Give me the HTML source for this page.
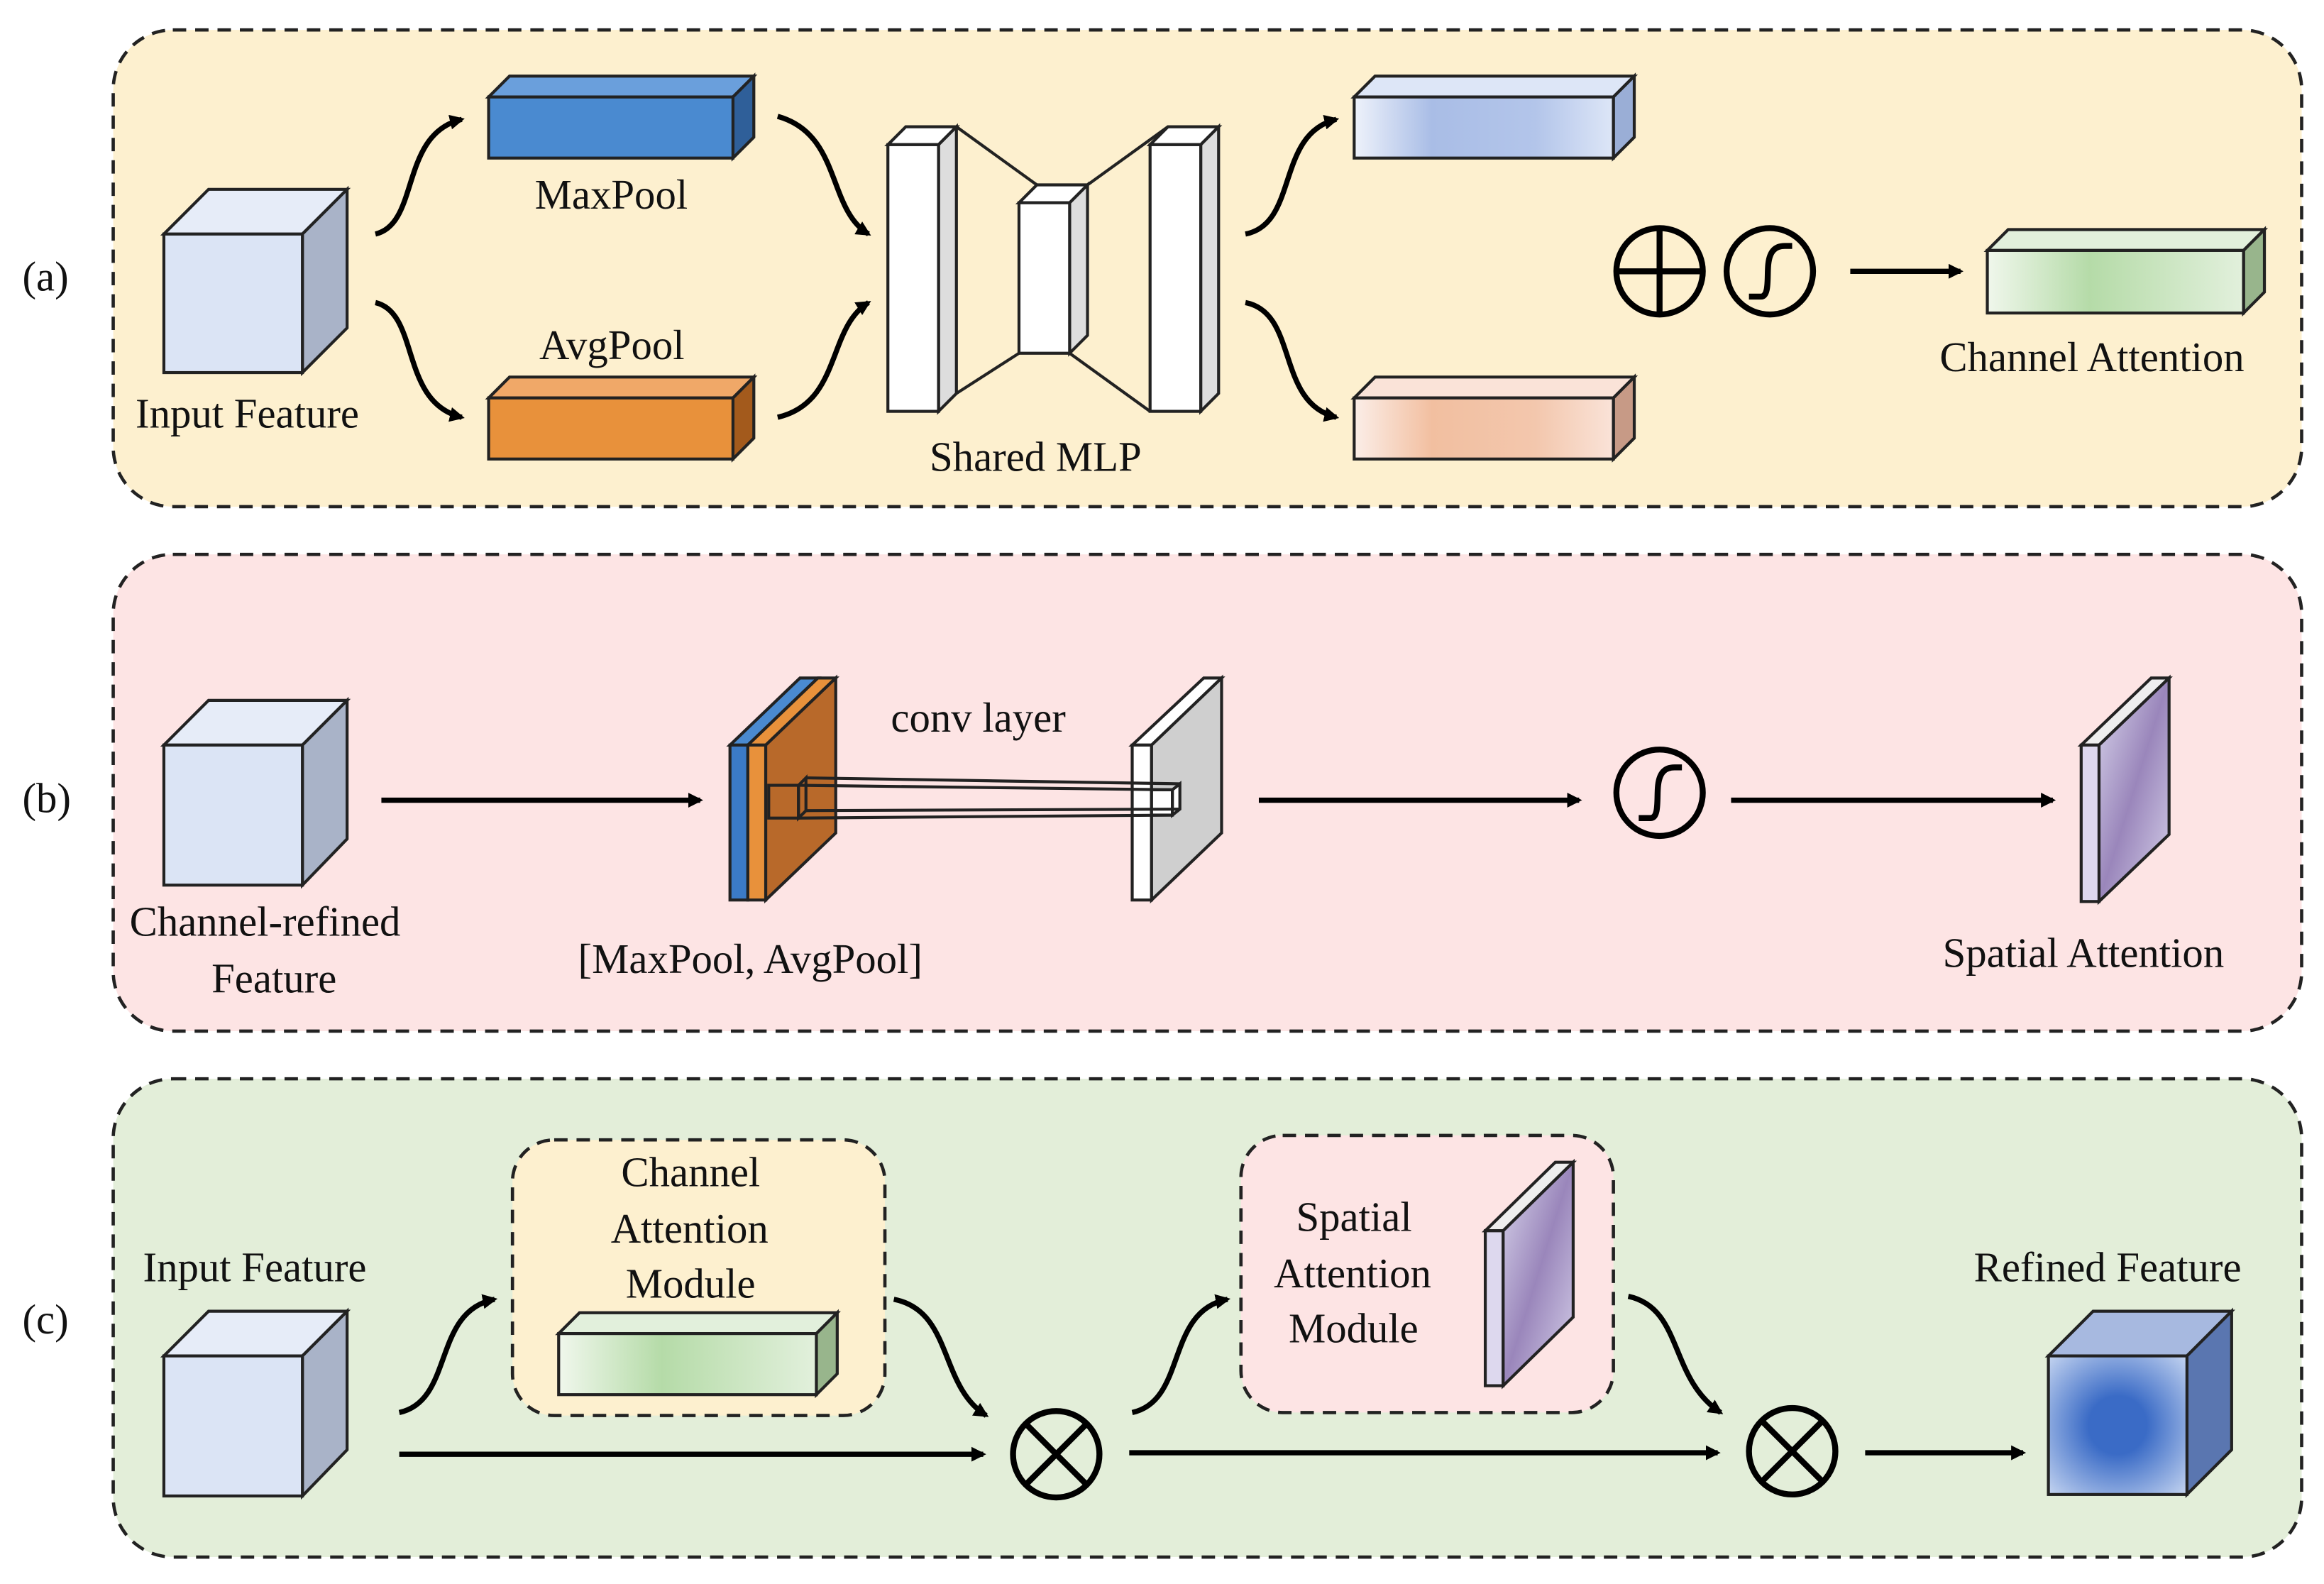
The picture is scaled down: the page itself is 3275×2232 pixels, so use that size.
<!DOCTYPE html>
<html><head><meta charset="utf-8"><style>
html,body{margin:0;padding:0;background:#fff;}
svg{display:block;}
svg text{font-family:"Liberation Serif","DejaVu Serif",serif;font-size:28px;fill:#111;}
</style></head><body>
<svg width="3275" height="2232" viewBox="0 0 1560 1063" xmlns="http://www.w3.org/2000/svg" font-family="Liberation Serif, DejaVu Serif, serif">
<defs>
<marker id="ah" markerWidth="10" markerHeight="10" refX="8" refY="5" orient="auto" markerUnits="userSpaceOnUse" viewBox="0 0 10 10"><path d="M0,0 L10,5 L0,10 Z" fill="#000"/></marker>
<linearGradient id="gb" x1="0" x2="1"><stop offset="0" stop-color="#eef2fb"/><stop offset="0.3" stop-color="#a9bde6"/><stop offset="0.7" stop-color="#b3c5ea"/><stop offset="1" stop-color="#dde6f7"/></linearGradient>
<linearGradient id="go" x1="0" x2="1"><stop offset="0" stop-color="#fbeee8"/><stop offset="0.3" stop-color="#f2bfa0"/><stop offset="0.7" stop-color="#f3c7ad"/><stop offset="1" stop-color="#fae3d8"/></linearGradient>
<linearGradient id="gg" x1="0" x2="1"><stop offset="0" stop-color="#f0f7ec"/><stop offset="0.4" stop-color="#b5dba8"/><stop offset="0.6" stop-color="#c4e2b9"/><stop offset="1" stop-color="#e2f0dc"/></linearGradient>
<linearGradient id="gp" x1="0" x2="1" y1="0" y2="1"><stop offset="0" stop-color="#d9d6ec"/><stop offset="0.5" stop-color="#9a86bb"/><stop offset="1" stop-color="#d6d1ea"/></linearGradient>
<radialGradient id="gr" cx="0.5" cy="0.5" r="0.7"><stop offset="0.3" stop-color="#3a6bc6"/><stop offset="1" stop-color="#c3d3f0"/></radialGradient>
</defs>
<rect width="1560" height="1063" fill="#fff"/>
<rect x="76" y="20" width="1469" height="320" rx="40" fill="#fdf0cf" stroke="#222" stroke-width="2.2" stroke-dasharray="9,6"/>
<rect x="76" y="372" width="1469" height="320" rx="40" fill="#fde4e4" stroke="#222" stroke-width="2.2" stroke-dasharray="9,6"/>
<rect x="76" y="724" width="1469" height="321" rx="40" fill="#e3eed9" stroke="#222" stroke-width="2.2" stroke-dasharray="9,6"/>
<text x="15" y="195">(a)</text><text x="15" y="545">(b)</text><text x="15" y="895">(c)</text>

<g stroke="#222" stroke-width="2">
<polygon points="110,157 140,127 233,127 203,157" fill="#e6ecf8"/>
<polygon points="203,157 233,127 233,220 203,250" fill="#a9b3c8"/>
<rect x="110" y="157" width="93" height="93" fill="#dbe4f5"/>
<polygon points="328,65 342,51 506,51 492,65" fill="#6a9fdc"/>
<polygon points="492,65 506,51 506,92 492,106" fill="#2f5f99"/>
<rect x="328" y="65" width="164" height="41" fill="#4a8ad0"/>
<polygon points="328,267 342,253 506,253 492,267" fill="#f0a868"/>
<polygon points="492,267 506,253 506,294 492,308" fill="#a35a1c"/>
<rect x="328" y="267" width="164" height="41" fill="#e8913b"/>
<polygon points="596,97 608,85 642,85 630,97" fill="#fff"/><polygon points="630,97 642,85 642,264 630,276" fill="#ddd"/><rect x="596" y="97" width="34" height="179" fill="#fff"/>
<polygon points="684,136 696,124 730,124 718,136" fill="#fff"/><polygon points="718,136 730,124 730,225 718,237" fill="#ddd"/><rect x="684" y="136" width="34" height="101" fill="#fff"/>
<polygon points="772,97 784,85 818,85 806,97" fill="#fff"/><polygon points="806,97 818,85 818,264 806,276" fill="#ddd"/><rect x="772" y="97" width="34" height="179" fill="#fff"/>
<line x1="642" y1="85" x2="696" y2="124"/><line x1="642" y1="264" x2="684" y2="237"/><line x1="730" y1="124" x2="784" y2="85"/><line x1="718" y1="237" x2="772" y2="276"/>
<polygon points="909,65 923,51 1097,51 1083,65" fill="#dde6f7"/><polygon points="1083,65 1097,51 1097,92 1083,106" fill="#9aaed6"/><rect x="909" y="65" width="174" height="41" fill="url(#gb)"/>
<polygon points="909,267 923,253 1097,253 1083,267" fill="#fae3d8"/><polygon points="1083,267 1097,253 1097,294 1083,308" fill="#c79a86"/><rect x="909" y="267" width="174" height="41" fill="url(#go)"/>
<polygon points="1334,168 1348,154 1520,154 1506,168" fill="#e2f0dc"/><polygon points="1506,168 1520,154 1520,196 1506,210" fill="#98b58c"/><rect x="1334" y="168" width="172" height="42" fill="url(#gg)"/>
</g>
<g fill="none" stroke="#000" stroke-width="4">
<circle cx="1114" cy="182" r="29"/><line x1="1085" y1="182" x2="1143" y2="182"/><line x1="1114" y1="153" x2="1114" y2="211"/>
<circle cx="1188" cy="182" r="29"/><path d="M1174,199 L1182,199 C1188,199 1186,185 1187,177 C1188,168 1192,165 1198,165 L1203,165"/>
</g>
<g fill="none" stroke="#000" stroke-width="3.5" marker-end="url(#ah)">
<path d="M252,157 C282,150 268,90 310,80"/>
<path d="M252,203 C282,210 268,270 310,280"/>
<path d="M522,78 C565,90 555,140 583,157"/>
<path d="M522,280 C565,270 555,220 583,203"/>
<path d="M836,157 C872,150 856,90 897,80"/>
<path d="M836,203 C872,210 856,270 897,280"/>
<path d="M1242,182 L1316,182"/>
</g>
<text x="359" y="140">MaxPool</text><text x="362" y="241">AvgPool</text>
<text x="91" y="287">Input Feature</text><text x="624" y="316">Shared MLP</text>
<text x="1302" y="249">Channel Attention</text>

<g stroke="#222" stroke-width="2">
<polygon points="110,500 140,470 233,470 203,500" fill="#e6ecf8"/>
<polygon points="203,500 233,470 233,563 203,594" fill="#a9b3c8"/>
<rect x="110" y="500" width="93" height="94" fill="#dbe4f5"/>
<polygon points="490,500 537,455 549,455 502,500" fill="#4a8ad0"/>
<rect x="490" y="500" width="12" height="104" fill="#3b7ac6"/>
<polygon points="502,500 549,455 561,455 514,500" fill="#e8913b"/>
<rect x="502" y="500" width="12" height="104" fill="#e8913b"/>
<polygon points="514,500 561,455 561,559 514,604" fill="#b8692a"/>
<polygon points="760,500 808,455 820,455 773,500" fill="#fff"/>
<rect x="760" y="500" width="13" height="104" fill="#fff"/>
<polygon points="773,500 820,455 820,559 773,604" fill="#cfcfcf"/>
<rect x="516" y="527" width="20" height="22" fill="none"/>
<polygon points="536,527 541,522 541,544 536,549" fill="none"/>
<rect x="773" y="530" width="14" height="17" fill="#fff"/>
<polygon points="787,530 792,526 792,543 787,547" fill="#fff"/>
<line x1="541" y1="522" x2="792" y2="526"/><line x1="536" y1="527" x2="787" y2="530"/>
<line x1="536" y1="549" x2="787" y2="547"/><line x1="541" y1="544" x2="792" y2="543"/>
<polygon points="1397,500 1444,455 1456,455 1409,500" fill="#eee"/>
<rect x="1397" y="500" width="12" height="105" fill="#ddd8ee"/>
<polygon points="1409,500 1456,455 1456,560 1409,605" fill="url(#gp)"/>
</g>
<g fill="none" stroke="#000" stroke-width="4">
<circle cx="1114" cy="532" r="29"/><path d="M1100,549 L1108,549 C1114,549 1112,535 1113,527 C1114,518 1118,515 1124,515 L1129,515"/>
</g>
<g fill="none" stroke="#000" stroke-width="3.5" marker-end="url(#ah)">
<path d="M256,537 L470,537"/><path d="M845,537 L1060,537"/><path d="M1162,537 L1378,537"/>
</g>
<text x="87" y="628">Channel-refined</text><text x="142" y="666">Feature</text>
<text x="598" y="491">conv layer</text><text x="388" y="653">[MaxPool, AvgPool]</text>
<text x="1304" y="649">Spatial Attention</text>

<rect x="344" y="765" width="250" height="185" rx="28" fill="#fdf0cf" stroke="#222" stroke-width="2.2" stroke-dasharray="9,6"/>
<rect x="833" y="762" width="250" height="186" rx="28" fill="#fde4e4" stroke="#222" stroke-width="2.2" stroke-dasharray="9,6"/>
<g stroke="#222" stroke-width="2">
<polygon points="110,910 140,880 233,880 203,910" fill="#e6ecf8"/>
<polygon points="203,910 233,880 233,973 203,1004" fill="#a9b3c8"/>
<rect x="110" y="910" width="93" height="94" fill="#dbe4f5"/>
<polygon points="375,895 389,881 562,881 548,895" fill="#e2f0dc"/><polygon points="548,895 562,881 562,922 548,936" fill="#98b58c"/><rect x="375" y="895" width="173" height="41" fill="url(#gg)"/>
<polygon points="997,826 1044,780 1056,780 1009,826" fill="#eee"/>
<rect x="997" y="826" width="12" height="104" fill="#ddd8ee"/>
<polygon points="1009,826 1056,780 1056,884 1009,930" fill="url(#gp)"/>
<polygon points="1375,910 1405,880 1498,880 1468,910" fill="#a7b9e0"/>
<polygon points="1468,910 1498,880 1498,973 1468,1003" fill="#5a76b0"/>
<rect x="1375" y="910" width="93" height="93" fill="url(#gr)"/>
</g>
<g fill="none" stroke="#000" stroke-width="4">
<circle cx="709" cy="976" r="29"/><line x1="689" y1="956" x2="729" y2="996"/><line x1="729" y1="956" x2="689" y2="996"/>
<circle cx="1203" cy="974" r="29"/><line x1="1183" y1="954" x2="1223" y2="994"/><line x1="1223" y1="954" x2="1183" y2="994"/>
</g>
<g fill="none" stroke="#000" stroke-width="3.5" marker-end="url(#ah)">
<path d="M268,948 C305,940 290,880 332,872"/>
<path d="M268,976 L660,976"/>
<path d="M600,872 C640,880 630,930 662,950"/>
<path d="M760,948 C797,940 782,880 824,872"/>
<path d="M758,975 L1153,975"/>
<path d="M1093,870 C1130,878 1120,925 1155,948"/>
<path d="M1252,975 L1358,975"/>
</g>
<text x="96" y="860">Input Feature</text>
<text x="417" y="796">Channel</text><text x="410" y="834">Attention</text><text x="420" y="871">Module</text>
<text x="870" y="826">Spatial</text><text x="855" y="864">Attention</text><text x="865" y="901">Module</text>
<text x="1325" y="860">Refined Feature</text>
</svg>
</body></html>
